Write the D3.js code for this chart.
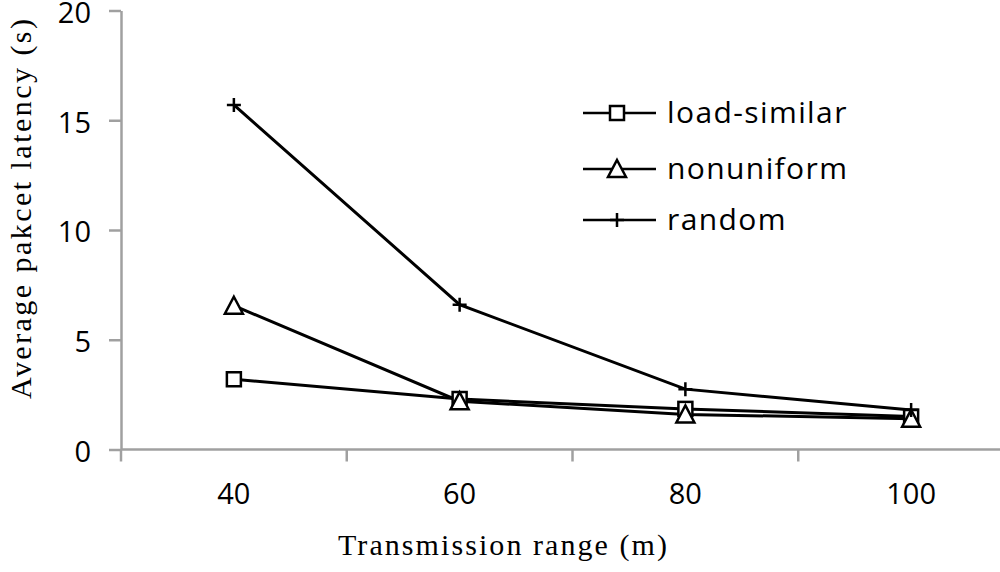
<!DOCTYPE html>
<html>
<head>
<meta charset="utf-8">
<script src="https://cdn.jsdelivr.net/npm/d3@7"></script>
<style>
  body { margin: 0; background: #fff; }
  .axis path, .axis line { stroke: #a0a0a0; stroke-width: 2.5px; }
  .axis text { font-family: "Open Sans", sans-serif; font-size: 29px; fill: #000; }
  .title { font-family: "Liberation Serif", "Times New Roman", Times, serif; font-size: 30px; }
</style>
</head>
<body>
<svg id="chart" width="1000" height="572"></svg>
<script>
var categories = ['40', '60', '80', '100'];
var loadSimilar = [3.2, 2.3, 1.85, 1.5];
var nonuniform = [6.55, 2.2, 1.6, 1.4];
var random = [15.7, 6.6, 2.75, 1.8];
var yTicks = [0, 5, 10, 15, 20];

var series = [
    {name: 'load-similar', values: loadSimilar, marker: 'square'},
    {name: 'nonuniform', values: nonuniform, marker: 'triangle'},
    {name: 'random', values: random, marker: 'plus'}
];

var svg = d3.select('#chart');

var x = d3.scaleBand().domain(categories).range([121, 1024]);
var y = d3.scaleLinear().domain([0, 20]).range([449.5, 10.5]);

// y axis
svg.append('g').attr('class', 'axis').attr('transform', 'translate(121,0)')
    .call(d3.axisLeft(y).tickValues(yTicks).tickSize(12).tickSizeOuter(0).tickPadding(18))
    .selectAll('text').attr('dy', '0.41em');

// x axis, ticks sit on the band edges
var xAxis = svg.append('g').attr('class', 'axis').attr('transform', 'translate(0,449.5)');
xAxis.append('line').attr('x1', 121).attr('x2', 1024).attr('y1', 0).attr('y2', 0);
xAxis.selectAll('.tk').data(categories.concat(['end'])).enter().append('line')
    .attr('x1', (d, i) => 121 + i * x.bandwidth())
    .attr('x2', (d, i) => 121 + i * x.bandwidth())
    .attr('y1', 0).attr('y2', 12);
xAxis.selectAll('text').data(categories).enter().append('text')
    .attr('x', d => x(d) + x.bandwidth() / 2)
    .attr('y', 54)
    .attr('text-anchor', 'middle')
    .text(d => d);

// axis titles
svg.append('text')
    .attr('class', 'title')
    .attr('x', 338).attr('y', 555)
    .attr('textLength', 329)
    .attr('lengthAdjust', 'spacing')
    .text('Transmission range (m)');

svg.append('text')
    .attr('class', 'title')
    .attr('transform', 'translate(31,399) rotate(-90)')
    .attr('textLength', 380)
    .attr('lengthAdjust', 'spacing')
    .text('Average pakcet latency (s)');

function drawMarker(g, type) {
    if (type === 'square') {
        g.append('rect').attr('x', -7).attr('y', -7).attr('width', 14).attr('height', 14)
            .attr('fill', '#fff').attr('stroke', '#000').attr('stroke-width', 2.5);
    } else if (type === 'triangle') {
        g.append('path').attr('d', 'M0,-9L9,8L-9,8Z')
            .attr('fill', '#fff').attr('stroke', '#000').attr('stroke-width', 2.5);
    } else {
        g.append('path').attr('d', 'M-7,0H7M0,-7V7')
            .attr('stroke', '#000').attr('stroke-width', 2.5);
    }
}

var line = d3.line()
    .x((d, i) => x(categories[i]) + x.bandwidth() / 2)
    .y(d => y(d));

series.forEach(s => {
    svg.append('path').datum(s.values)
        .attr('d', line)
        .attr('fill', 'none')
        .attr('stroke', '#000')
        .attr('stroke-width', 3);
});

series.forEach(s => {
    s.values.forEach((v, i) => {
        var g = svg.append('g')
            .attr('transform', 'translate(' + (x(categories[i]) + x.bandwidth() / 2) + ',' + y(v) + ')');
        drawMarker(g, s.marker);
    });
});

// legend
var legendRows = [113, 169, 220];
series.forEach((s, i) => {
    var row = svg.append('g').attr('transform', 'translate(0,' + legendRows[i] + ')');
    row.append('line').attr('x1', 583).attr('x2', 656).attr('y1', 0).attr('y2', 0)
        .attr('stroke', '#000').attr('stroke-width', 2.5);
    drawMarker(row.append('g').attr('transform', 'translate(617,0)'), s.marker);
    row.append('text')
        .attr('x', 667).attr('y', 10)
        .style('font-family', '"Open Sans", sans-serif')
        .style('font-size', '30px')
        .style('letter-spacing', '1.4px')
        .text(s.name);
});
</script>
</body>
</html>
